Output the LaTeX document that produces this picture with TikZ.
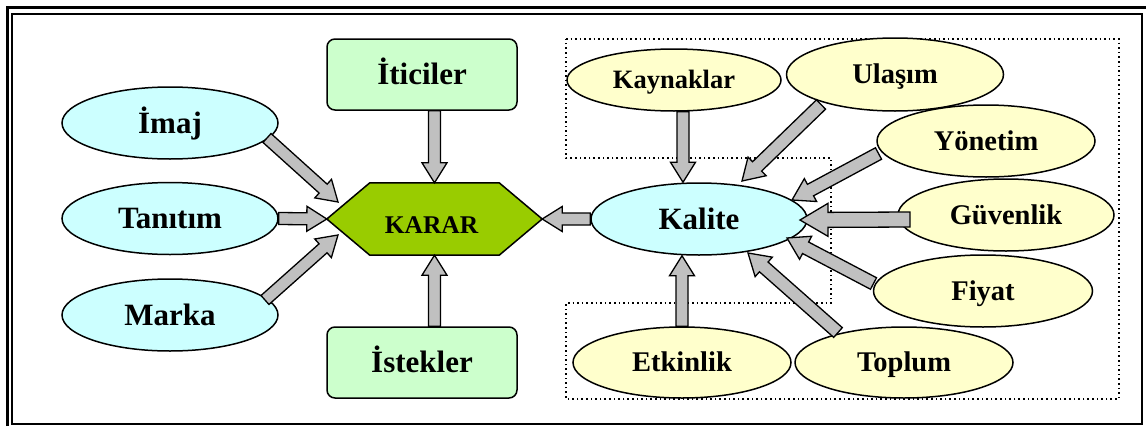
\documentclass[tikz,border=0pt]{standalone}
\usepackage{fontspec}
\setmainfont{Liberation Serif}
\usetikzlibrary{calc,shapes.geometric}
\definecolor{cyanfill}{HTML}{CCFFFF}
\definecolor{yelfill}{HTML}{FFFFCC}
\definecolor{grnfill}{HTML}{CCFFCC}
\definecolor{kararfill}{HTML}{99CC00}
\definecolor{arrfill}{HTML}{C0C0C0}
% block arrow: #1 tail, #2 tip, #3 shaft half width, #4 head half width, #5 head length
\newcommand\barrow[5]{%
  \path (#1) coordinate (ba-s) (#2) coordinate (ba-e);
  \path ($(ba-e)!#5!(ba-s)$) coordinate (ba-h);
  \draw[blockarrow] ($(ba-s)!#3!90:(ba-e)$) -- ($(ba-h)!#3!90:(ba-e)$)
    -- ($(ba-h)!#4!90:(ba-e)$) -- (ba-e) -- ($(ba-h)!#4!-90:(ba-e)$)
    -- ($(ba-h)!#3!-90:(ba-e)$) -- ($(ba-s)!#3!-90:(ba-e)$) -- cycle;
}
\begin{document}
\begin{tikzpicture}[x=1pt,y=-1pt,
  ell/.style={ellipse, draw, line width=1.5pt, inner sep=0pt,
    minimum width=216pt, minimum height=72pt, text height=20.5pt, text depth=0pt,
    font=\fontsize{31}{31}\selectfont\bfseries},
  cyanell/.style={ell, fill=cyanfill},
  yelell/.style={ell, fill=yelfill, text height=18.9pt,
    font=\fontsize{28.5}{28.5}\selectfont\bfseries},
  gbox/.style={draw, rounded corners=8pt, fill=grnfill, line width=1.5pt,
    minimum width=190pt, minimum height=71pt, inner sep=0pt,
    text height=20.5pt, text depth=0pt, font=\fontsize{31}{31}\selectfont\bfseries},
  kararbox/.style={minimum width=215pt, minimum height=72pt, inner sep=0pt},
  blockarrow/.style={draw, fill=arrfill, line width=1.3pt, line join=miter},
  dotbox/.style={dash pattern=on 1.6pt off 3pt, line width=1.6pt}
]
\useasboundingbox (0,0) rectangle (1146,426);
\fill[white] (0,0) rectangle (1146,426);
% frame
\draw[line width=3pt] (7.5,426) -- (7.5,7.5) -- (1146,7.5);
\draw[line width=2pt] (12,13.5) rectangle (1142,424);
% dotted outline
\draw[dotbox] (566,39) -- (1119,39) -- (1119,399) -- (566,399) -- (566,303)
  -- (831,303) -- (831,158) -- (566,158) -- cycle;
% left nodes
\node[cyanell] (imaj) at (170,123) {İmaj};
\node[cyanell] (tanitim) at (170,218.5) {Tanıtım};
\node[cyanell] (marka) at (170,315) {Marka};
\node[gbox] (iticiler) at (422,74.5) {İticiler};
\node[gbox] (istekler) at (422,362.5) {İstekler};
% KARAR
\node[kararbox] (karar) at (434.5,219) {};
\draw[fill=kararfill, line width=1.5pt, line join=miter] (karar.west)
  -- ($(karar.north west)+(43,0)$) -- ($(karar.north east)+(-43,0)$)
  -- (karar.east) -- ($(karar.south east)+(-43,0)$)
  -- ($(karar.south west)+(43,0)$) -- cycle;
\node[font=\fontsize{25.5}{25.5}\selectfont\bfseries, text height=16.9pt, text depth=0pt, inner sep=0pt]
  (kararlabel) at ($(karar.center)+(-3,6)$) {KARAR};
% right nodes
\node[cyanell] (kalite) at (699,219) {Kalite};
\node[yelell, minimum width=214pt, minimum height=62pt, font=\fontsize{26.5}{26.5}\selectfont\bfseries, text height=17.5pt]
  (kaynaklar) at (674,80) {Kaynaklar};
\node[yelell, minimum width=217pt, minimum height=73pt] (ulasim) at (895,74.5) {Ulaşım};
\node[yelell, minimum width=218pt] (yonetim) at (986,141) {Yönetim};
\node[yelell] (guvenlik) at (1006,215) {Güvenlik};
\node[yelell, minimum width=219pt] (fiyat) at (983,291) {Fiyat};
\node[yelell, minimum width=218pt, minimum height=71pt] (toplum) at (904,362.5) {Toplum};
\node[yelell, minimum width=218pt, minimum height=71pt] (etkinlik) at (682,362.5) {Etkinlik};
% arrows into KARAR
\barrow{$(imaj)+(97,15)$}{$(karar.center)+(-96.5,-17)$}{6pt}{12.5pt}{20pt}
\barrow{tanitim.east}{karar.west}{6pt}{12.5pt}{20pt}
\barrow{$(marka)+(95,-15)$}{$(karar.center)+(-96.5,16)$}{6pt}{12.5pt}{20pt}
\barrow{iticiler.south -| karar.north}{karar.north}{6pt}{12.5pt}{20pt}
\barrow{istekler.north -| karar.south}{karar.south}{6pt}{12.5pt}{20pt}
\barrow{kalite.west}{karar.east}{6pt}{12.5pt}{20pt}
% arrows into Kalite
\barrow{$(kaynaklar.south)+(9,0)$}{$(kalite.north)+(-16,0)$}{6pt}{12.5pt}{20pt}
\barrow{$(ulasim)+(-74,30)$}{$(kalite)+(43,-38)$}{6.5pt}{13pt}{21pt}
\barrow{$(yonetim)+(-107.5,12.5)$}{$(kalite)+(93,-19)$}{6.5pt}{13pt}{21pt}
\barrow{$(guvenlik)+(-96,4.5)$}{$(kalite)+(101,1)$}{7.5pt}{16.5pt}{28pt}
\barrow{$(fiyat)+(-109.5,-7.5)$}{$(kalite)+(88,19)$}{6.5pt}{13pt}{21pt}
\barrow{$(toplum)+(-66,-30)$}{$(kalite)+(49,34)$}{6.5pt}{13pt}{21pt}
\barrow{etkinlik.north}{etkinlik.north |- kalite.south}{6pt}{12.5pt}{20pt}
\end{tikzpicture}
\end{document}
